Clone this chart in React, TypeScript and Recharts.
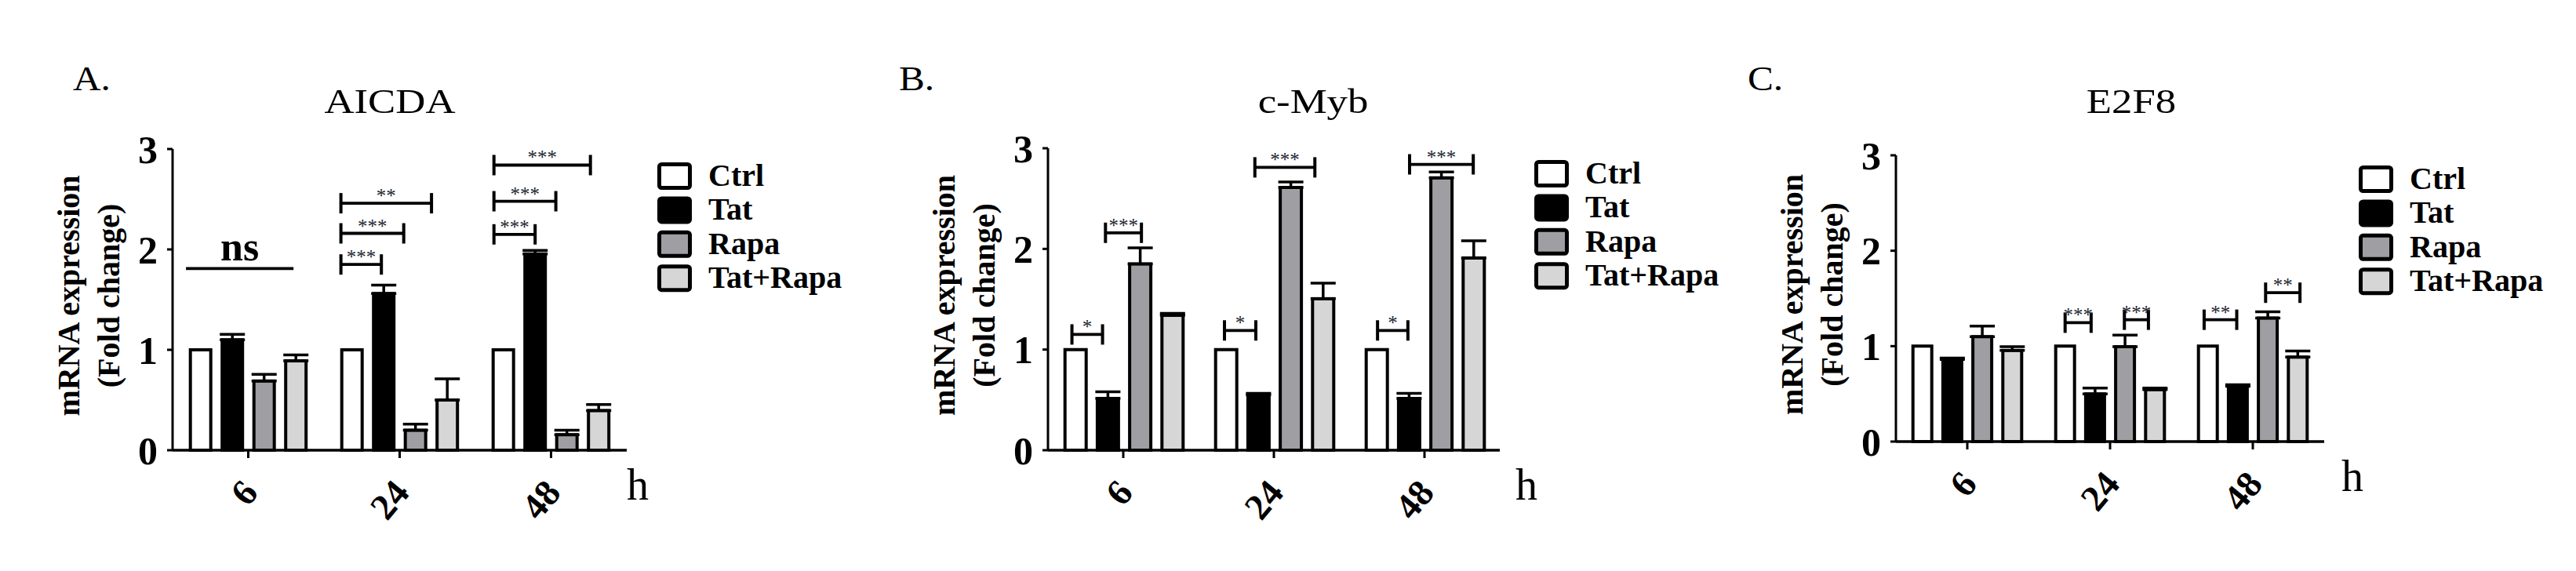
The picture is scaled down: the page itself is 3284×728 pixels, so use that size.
import React from 'react';
import { BarChart, Bar, XAxis, YAxis, ErrorBar, Legend } from 'recharts';

const SERIF = "'Liberation Serif', 'Times New Roman', Times, serif";

// ---------- data ----------
const timePoints = ['6', '24', '48'];
const seriesNames = ['Ctrl', 'Tat', 'Rapa', 'Tat+Rapa'];
const seriesFills = ['#ffffff', '#000000', '#9e9ea3', '#d6d6d6'];
const yTicks = [0, 1, 2, 3];

// A. AICDA
const aicdaCtrl = [1, 1, 1];
const aicdaTat = [1.1, 1.56, 1.955];
const aicdaTatErr = [0.055, 0.085, 0.035];
const aicdaRapa = [0.69, 0.2, 0.155];
const aicdaRapaErr = [0.065, 0.06, 0.045];
const aicdaTatRapa = [0.89, 0.5, 0.395];
const aicdaTatRapaErr = [0.06, 0.21, 0.06];

// B. c-Myb
const cmybCtrl = [1, 1, 1];
const cmybTat = [0.515, 0.55, 0.515];
const cmybTatErr = [0.065, 0.015, 0.05];
const cmybRapa = [1.85, 2.61, 2.705];
const cmybRapaErr = [0.16, 0.055, 0.06];
const cmybTatRapa = [1.34, 1.505, 1.91];
const cmybTatRapaErr = [0.02, 0.155, 0.17];

// C. E2F8
const e2f8Ctrl = [1, 1, 1];
const e2f8Tat = [0.86, 0.5, 0.58];
const e2f8TatErr = [0.015, 0.06, 0.015];
const e2f8Rapa = [1.1, 0.995, 1.295];
const e2f8RapaErr = [0.11, 0.12, 0.065];
const e2f8TatRapa = [0.955, 0.545, 0.885];
const e2f8TatRapaErr = [0.04, 0.015, 0.065];

// significance brackets: bar index (0..3) + position within that bar, height in data units
type Bracket = { time: string; from: [number, number]; to: [number, number]; y: number; label: string; caps?: boolean };

const aicdaBrackets: Bracket[] = [
  { time: '6', from: [0, -0.12], to: [3, 0.4], y: 1.81, label: 'ns', caps: false },
  { time: '24', from: [0, 0.03], to: [1, 0.4], y: 1.85, label: '***' },
  { time: '24', from: [0, 0.03], to: [2, 0.0], y: 2.16, label: '***' },
  { time: '24', from: [0, 0.03], to: [3, -0.17], y: 2.46, label: '**' },
  { time: '48', from: [0, 0.1], to: [1, 0.5], y: 2.15, label: '***' },
  { time: '48', from: [0, 0.1], to: [2, 0.03], y: 2.48, label: '***' },
  { time: '48', from: [0, 0.1], to: [3, 0.15], y: 2.84, label: '***' },
];

const cmybBrackets: Bracket[] = [
  { time: '6', from: [0, 0.35], to: [1, 0.28], y: 1.15, label: '*' },
  { time: '6', from: [1, 0.4], to: [2, 0.55], y: 2.16, label: '***' },
  { time: '24', from: [0, 0.43], to: [1, 0.39], y: 1.19, label: '*' },
  { time: '24', from: [1, 0.35], to: [3, 0.16], y: 2.81, label: '***' },
  { time: '48', from: [0, 0.53], to: [1, 0.45], y: 1.19, label: '*' },
  { time: '48', from: [1, 0.52], to: [3, 0.48], y: 2.84, label: '***' },
];

const e2f8Brackets: Bracket[] = [
  { time: '24', from: [0, 0.5], to: [1, 0.32], y: 1.246, label: '***' },
  { time: '24', from: [2, 0.47], to: [3, 0.2], y: 1.277, label: '***' },
  { time: '48', from: [0, 0.33], to: [1, 0.45], y: 1.277, label: '**' },
  { time: '48', from: [2, 0.4], to: [3, 0.6], y: 1.56, label: '**' },
];

function buildRows(ctrl: number[], tat: number[], tatErr: number[], rapa: number[], rapaErr: number[], tr: number[], trErr: number[]) {
  return timePoints.map((t, i) => ({
    time: t,
    ctrl: ctrl[i],
    tat: tat[i],
    tatErr: [0, tatErr[i]],
    rapa: rapa[i],
    rapaErr: [0, rapaErr[i]],
    tatRapa: tr[i],
    tatRapaErr: [0, trErr[i]],
  }));
}

// ---------- layout ----------
const AXIS_X = 220;
const RIGHT = 290;
const X_AXIS_H = 120;
const H = 728;
const STROKE = 4;

const panels = [
  {
    key: 'A', letter: 'A.', title: 'AICDA',
    data: buildRows(aicdaCtrl, aicdaTat, aicdaTatErr, aicdaRapa, aicdaRapaErr, aicdaTatRapa, aicdaTatRapaErr),
    brackets: aicdaBrackets,
    chartLeft: 0, plotW: 579, top: 190, bottom: 574, barGap: 14.5, catGap: 22.7,
    legendLeft: 838, legendTop: 207, letterX: 93, titleX: 497, hDx: 0,
  },
  {
    key: 'B', letter: 'B.', title: 'c-Myb',
    data: buildRows(cmybCtrl, cmybTat, cmybTatErr, cmybRapa, cmybRapaErr, cmybTatRapa, cmybTatRapaErr),
    brackets: cmybBrackets,
    chartLeft: 1116, plotW: 576, top: 189, bottom: 574, barGap: 14.2, catGap: 21.7,
    legendLeft: 1956, legendTop: 204, letterX: 1146, titleX: 1674, hDx: 20,
  },
  {
    key: 'C', letter: 'C.', title: 'E2F8',
    data: buildRows(e2f8Ctrl, e2f8Tat, e2f8TatErr, e2f8Rapa, e2f8RapaErr, e2f8TatRapa, e2f8TatRapaErr),
    brackets: e2f8Brackets,
    chartLeft: 2197, plotW: 546, top: 198, bottom: 563, barGap: 14.2, catGap: 21.7,
    legendLeft: 3007, legendTop: 211, letterX: 2228, titleX: 2717, hDx: 22,
  },
];

type PanelCfg = (typeof panels)[number];

// ---------- pieces ----------
function makeBracketShape(cfg: PanelCfg) {
  return (props: any) => {
    const { x, y, width, height, fill, payload } = props;
    const v = payload ? payload.tatRapa : 0;
    const ppu = v > 0 ? height / v : 0;
    const baseY = y + height;
    const step = width + cfg.barGap;
    const pos = (idx: number, f: number) => x - (3 - idx) * step - STROKE / 2 + f * (width + STROKE);
    const items = cfg.brackets.filter((b) => payload && b.time === payload.time);
    return (
      <g>
        <rect x={x} y={y} width={width} height={height} fill={fill} stroke="#000" strokeWidth={STROKE} />
        {items.map((b, i) => {
          const x1 = pos(b.from[0], b.from[1]);
          const x2 = pos(b.to[0], b.to[1]);
          const yy = baseY - b.y * ppu;
          const cx = (x1 + x2) / 2;
          return (
            <g key={i}>
              <line x1={x1} x2={x2} y1={yy} y2={yy} stroke="#000" strokeWidth={3.8} />
              {b.caps !== false && (
                <>
                  <line x1={x1} x2={x1} y1={yy - 13} y2={yy + 13} stroke="#000" strokeWidth={4} />
                  <line x1={x2} x2={x2} y1={yy - 13} y2={yy + 13} stroke="#000" strokeWidth={4} />
                </>
              )}
              {b.label === 'ns' ? (
                <text x={cx} y={yy - 10} textAnchor="middle" fontFamily={SERIF} fontWeight="bold" fontSize={52} fill="#000">
                  {b.label}
                </text>
              ) : (
                <text x={cx} y={yy - 1} textAnchor="middle" fontFamily={SERIF} fontSize={25} fill="#222630">
                  {b.label}
                </text>
              )}
            </g>
          );
        })}
      </g>
    );
  };
}

const XTick = (props: any) => {
  const { x, y, payload } = props;
  const ax = x + 2;
  const ay = y + 33;
  return (
    <text x={ax} y={ay} transform={`rotate(-50 ${ax} ${ay})`} textAnchor="end" dominantBaseline="central"
      fontFamily={SERIF} fontWeight="bold" fontSize={47} fill="#000">
      {payload.value}
    </text>
  );
};

const LegendBox = (props: any) => {
  const payload = [...(props.payload || [])].sort(
    (a: any, b: any) => seriesNames.indexOf(a.value) - seriesNames.indexOf(b.value)
  );
  return (
    <svg width={270} height={180} style={{ display: 'block', overflow: 'visible' }}>
      {payload.map((e: any, i: number) => {
        const fill = (e.payload && e.payload.fill) || e.color;
        return (
          <g key={i}>
            <rect x={2.5} y={2.5 + i * 43.4} width={39} height={30} rx={3} fill={fill} stroke="#000" strokeWidth={5} />
            <text x={65} y={30 + i * 43.4} fontFamily={SERIF} fontWeight="bold" fontSize={40} fill="#000">
              {e.value}
            </text>
          </g>
        );
      })}
    </svg>
  );
};

function Panel({ cfg }: { cfg: PanelCfg }) {
  const width = AXIS_X + cfg.plotW + RIGHT;
  const marginBottom = H - cfg.bottom - X_AXIS_H;
  const plotH = cfg.bottom - cfg.top;
  const keys = ['ctrl', 'tat', 'rapa', 'tatRapa'];

  const yLabel = {
    content: (p: any) => {
      const vb = p && p.viewBox && p.viewBox.height ? p.viewBox : { x: 0, y: cfg.top, width: AXIS_X, height: plotH };
      const ax = vb.x + vb.width;
      const cy = vb.y + vb.height / 2 - 5;
      const x1 = ax - 119;
      const x2 = ax - 68;
      return (
        <g>
          <text x={x1} y={cy} transform={`rotate(-90 ${x1} ${cy})`} textAnchor="middle" fontFamily={SERIF} fontWeight="bold" fontSize={40} fill="#000">
            mRNA expression
          </text>
          <text x={x2} y={cy} transform={`rotate(-90 ${x2} ${cy})`} textAnchor="middle" fontFamily={SERIF} fontWeight="bold" fontSize={40} fill="#000">
            (Fold change)
          </text>
        </g>
      );
    },
  };

  const xLabel = {
    content: (p: any) => {
      const vb = p && p.viewBox && p.viewBox.width ? p.viewBox : { x: AXIS_X, y: cfg.bottom, width: cfg.plotW, height: X_AXIS_H };
      return (
        <text x={vb.x + vb.width + cfg.hDx} y={vb.y + 63} fontFamily={SERIF} fontSize={56} fill="#000">
          h
        </text>
      );
    },
  };

  return (
    <div style={{ position: 'absolute', left: cfg.chartLeft, top: 0, width, height: H }}>
      <BarChart width={width} height={H} data={cfg.data}
        margin={{ top: cfg.top, right: RIGHT, bottom: marginBottom, left: 0 }}
        barGap={cfg.barGap} barCategoryGap={cfg.catGap}>
        <XAxis dataKey="time" type="category" height={X_AXIS_H} interval={0}
          axisLine={{ stroke: '#000', strokeWidth: 3.5 }} tickLine={{ stroke: '#000', strokeWidth: 3 }}
          tickSize={10} tickMargin={2} tick={(p: any) => <XTick {...p} />} label={xLabel} />
        <YAxis type="number" domain={[0, 3]} ticks={yTicks} interval={0} width={AXIS_X}
          axisLine={{ stroke: '#000', strokeWidth: 3 }} tickLine={{ stroke: '#000', strokeWidth: 3 }}
          tickSize={7} tickMargin={12}
          tick={{ fill: '#000', fontSize: 50, fontWeight: 700, fontFamily: SERIF }} label={yLabel} />
        <Legend layout="vertical" align="center" verticalAlign="middle"
          wrapperStyle={{ left: cfg.legendLeft - cfg.chartLeft, top: cfg.legendTop, width: 270, height: 180 }}
          content={(p: any) => <LegendBox {...p} />} />
        {keys.map((k, i) => (
          <Bar key={k} dataKey={k} name={seriesNames[i]} fill={seriesFills[i]} stroke="#000" strokeWidth={STROKE}
            isAnimationActive={false}
            {...(k === 'tatRapa' ? { shape: makeBracketShape(cfg) } : {})}>
            {k !== 'ctrl' && (
              <ErrorBar dataKey={`${k}Err`} width={16} strokeWidth={3.5} stroke="#000" direction="y" />
            )}
          </Bar>
        ))}
      </BarChart>
    </div>
  );
}

export default function App() {
  return (
    <div style={{ position: 'absolute', left: 0, top: 0, width: 3284, height: H, background: '#fff', overflow: 'hidden' }}>
      {panels.map((cfg) => (
        <Panel key={cfg.key} cfg={cfg} />
      ))}
      <svg width={3284} height={H} style={{ position: 'absolute', left: 0, top: 0, pointerEvents: 'none' }}>
        {panels.map((cfg) => (
          <g key={cfg.key}>
            <text x={cfg.letterX} y={115} fontFamily={SERIF} fontSize={44} fill="#000"
              transform={`translate(${cfg.letterX} 0) scale(1.12 1) translate(${-cfg.letterX} 0)`}>
              {cfg.letter}
            </text>
            <text x={cfg.titleX} y={144} textAnchor="middle" fontFamily={SERIF} fontSize={44} fill="#000"
              transform={`translate(${cfg.titleX} 0) scale(1.2 1) translate(${-cfg.titleX} 0)`}>
              {cfg.title}
            </text>
          </g>
        ))}
      </svg>
    </div>
  );
}
